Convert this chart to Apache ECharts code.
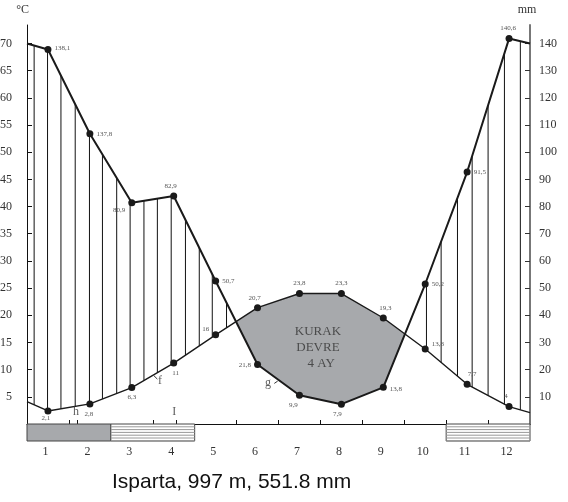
<!DOCTYPE html>
<html>
<head>
<meta charset="utf-8">
<script src="https://cdn.jsdelivr.net/npm/echarts@6/dist/echarts.min.js"></script>
<style>
html, body { margin: 0; padding: 0; background: #fff; }
#chart { width: 568px; height: 502px; }
</style>
</head>
<body>
<div id="chart"></div>
<script>
// months on the x axis
const months = ['1', '2', '3', '4', '5', '6', '7', '8', '9', '10', '11', '12'];

// temperature (°C) as drawn, plus the curve ends at the left/right frame
const tempVals = [2.4, 3.7, 6.7, 11.2, 16.4, 21.4, 24.0, 24.0, 19.5, 13.8, 7.3, 3.2];
const tempEdges = [4.1, 2.1];
const tempLabels = ['2,1', '2,8', '6,3', '11', '16', '20,7', '23,8', '23,3', '19,3', '13,8', '7,7', '4'];

// precipitation (mm) as drawn, plus the curve ends
const precVals = [137.8, 106.8, 81.4, 83.9, 52.6, 21.9, 10.6, 7.3, 13.5, 51.5, 92.7, 141.8];
const precEdges = [140, 140];
const precLabels = ['138,1', '137,8', '80,9', '82,9', '50,7', '21,8', '9,9', '7,9', '13,8', '50,2', '91,5', '140,6'];

const tempTicks = [5, 10, 15, 20, 25, 30, 35, 40, 45, 50, 55, 60, 65, 70];
const precTicks = [10, 20, 30, 40, 50, 60, 70, 80, 90, 100, 110, 120, 130, 140];
const monthTicks = [1, 1.2, 3, 3.55, 5, 6, 7, 8, 9, 10, 11];

// humid period hatch lines (month units along the axis)
const hatchX = [0.17, 0.49, 0.81, 1.15, 1.49, 1.8, 2.14, 2.46, 2.79, 3.11, 3.44, 3.78, 4.11, 4.42, 4.76,
    9.53, 9.88, 10.27, 10.62, 11.0, 11.39, 11.77];

// frost periods (in month units along the axis)
const absFrost = [[0, 2]];
const probFrost = [[2, 4], [10, 12]];

// small letters on the diagram
const notes = [['h', 1.17, 2.2], ['I', 3.51, 2.2], ['f', 3.17, 7.9], ['g', 5.75, 7.5]];
const leaders = [[3.03, 8.87, 3.11, 8.26], [5.9, 7.47, 5.98, 7.89]];
const dryText = [['KURAK\nDEVRE\n  4 AY', 6.94, 14.15]];

// label placement
const tempLabelPos = ['bottom', 'bottom', 'bottom', 'bottom', 'left', 'top', 'top', 'top', 'top', 'right', 'top', 'top'];
const tempLabelOff = [[-2, -3], [-1, 0], [0, 0], [2, 0], [0, -6], [-3, 0], [0, 0], [0, 0], [2, 0], [0, -5], [5, 0], [-3, 0]];
const precLabelPos = ['right', 'right', 'left', 'top', 'right', 'left', 'bottom', 'bottom', 'right', 'right', 'right', 'top'];
const precLabelOff = [[0, -1], [0, 0], [0, 7], [-3, 0], [0, 0], [0, 1], [-6, 0], [-4, 0], [0, 2], [0, 0], [0, 0], [-1, 0]];

const serif = 'Liberation Serif';

const xs = [0].concat(months.map((m, i) => i + 0.5), [12]);
const tempPts = [tempEdges[0]].concat(tempVals, [tempEdges[1]]).map((v, i) => [xs[i], v]);
const precPtsC = [precEdges[0]].concat(precVals, [precEdges[1]]).map((v, i) => [xs[i], v / 2]);

function interp(pts, x) {
    for (let i = 0; i < pts.length - 1; i++) {
        if (x >= pts[i][0] && x <= pts[i + 1][0]) {
            const f = (x - pts[i][0]) / (pts[i + 1][0] - pts[i][0]);
            return pts[i][1] + f * (pts[i + 1][1] - pts[i][1]);
        }
    }
    return pts[pts.length - 1][1];
}

// humid period hatching: from the temperature curve up to the rain curve
const hatch = [];
hatchX.forEach(x => {
    const t = interp(tempPts, x), p = interp(precPtsC, x);
    if (p > t) hatch.push([x, t, p]);
});

// dry period polygon
const dryTop = [], dryBot = [];
for (let i = 0; i < xs.length; i++) {
    const d0 = tempPts[i][1] - precPtsC[i][1];
    if (d0 > 0) { dryTop.push(tempPts[i]); dryBot.push(precPtsC[i]); }
    if (i < xs.length - 1) {
        const d1 = tempPts[i + 1][1] - precPtsC[i + 1][1];
        if ((d0 > 0) !== (d1 > 0)) {
            const f = d0 / (d0 - d1);
            const xc = xs[i] + f * (xs[i + 1] - xs[i]);
            const yc = tempPts[i][1] + f * (tempPts[i + 1][1] - tempPts[i][1]);
            dryTop.push([xc, yc]); dryBot.push([xc, yc]);
        }
    }
}
const dryPoly = dryTop.concat(dryBot.slice().reverse());

function lineData(vals, edges, labels, pos, off) {
    const out = [{ value: [0, edges[0]], symbol: 'none', label: { show: false } }];
    vals.forEach((v, i) => {
        out.push({
            value: [i + 0.5, v],
            label: { show: true, position: pos[i], offset: off[i], formatter: labels[i] }
        });
    });
    out.push({ value: [12, edges[1]], symbol: 'none', label: { show: false } });
    return out;
}

const chart = echarts.init(document.getElementById('chart'));
chart.setOption({
    animation: false,
    title: {
        text: 'Isparta, 997 m, 551.8 mm',
        left: 107,
        top: 467,
        textStyle: { fontFamily: 'Liberation Sans', fontSize: 21, fontWeight: 'normal', color: '#111' }
    },
    grid: { left: 27, right: 38, top: 25, bottom: 78, outerBoundsMode: 'none', containLabel: false },
    xAxis: [
        {
            type: 'value', min: 0, max: 12,
            axisLine: { lineStyle: { color: '#111', width: 1 } },
            axisTick: { inside: true, length: 4, customValues: monthTicks, lineStyle: { color: '#111' } },
            axisLabel: { show: false },
            splitLine: { show: false }
        },
        {
            type: 'category', data: months, position: 'bottom', boundaryGap: true,
            axisLine: { show: false }, axisTick: { show: false },
            axisLabel: { margin: 22, padding: [0, 5, 0, 0], fontFamily: serif, fontSize: 12, color: '#333' }
        }
    ],
    yAxis: [
        {
            type: 'value', min: 0, max: 73.4, position: 'left',
            name: '°C', nameLocation: 'end', nameGap: 9,
            nameTextStyle: { fontFamily: serif, fontSize: 12, color: '#333', align: 'right', padding: [0, -2, 0, 0] },
            axisLine: { show: true, lineStyle: { color: '#111', width: 1 } },
            axisTick: { show: true, inside: true, length: 5, customValues: tempTicks, lineStyle: { color: '#111' } },
            axisLabel: { customValues: tempTicks, margin: 15, fontFamily: serif, fontSize: 12, color: '#333' },
            splitLine: { show: false }
        },
        {
            type: 'value', min: 0, max: 146.8, position: 'right',
            name: 'mm', nameLocation: 'end', nameGap: 9,
            nameTextStyle: { fontFamily: serif, fontSize: 12, color: '#333', padding: [0, 6, 0, 0] },
            axisLine: { show: true, lineStyle: { color: '#777', width: 2 } },
            axisTick: { show: true, inside: true, length: 5, customValues: precTicks, lineStyle: { color: '#333' } },
            axisLabel: { customValues: precTicks, margin: 9, fontFamily: serif, fontSize: 12, color: '#333' },
            splitLine: { show: false }
        }
    ],
    series: [
        {
            type: 'custom', xAxisIndex: 0, yAxisIndex: 0, z: 1,
            data: [[0, 0]],
            renderItem: function (params, api) {
                return {
                    type: 'polygon',
                    shape: { points: dryPoly.map(p => api.coord(p)) },
                    style: { fill: '#a7a9ac', stroke: 'none' }
                };
            }
        },
        {
            type: 'custom', xAxisIndex: 0, yAxisIndex: 0, z: 2,
            data: hatch,
            renderItem: function (params, api) {
                const a = api.coord([api.value(0), api.value(1)]);
                const b = api.coord([api.value(0), api.value(2)]);
                return {
                    type: 'line',
                    shape: { x1: a[0], y1: a[1], x2: b[0], y2: b[1] },
                    style: { stroke: '#111', lineWidth: 1 }
                };
            }
        },
        {
            type: 'custom', xAxisIndex: 0, yAxisIndex: 0, z: 2, clip: false,
            data: absFrost.map(d => d.concat([0])).concat(probFrost.map(d => d.concat([1]))),
            renderItem: function (params, api) {
                const a = api.coord([api.value(0), 0]);
                const b = api.coord([api.value(1), 0]);
                const h = 17;
                const children = [{
                    type: 'rect',
                    shape: { x: a[0], y: a[1], width: b[0] - a[0], height: h },
                    style: { fill: api.value(2) ? '#fff' : '#a7a9ac', stroke: '#444', lineWidth: 1 }
                }];
                if (api.value(2)) {
                    for (let y = a[1] + 2.8; y < a[1] + h; y += 2.8) {
                        children.push({
                            type: 'line',
                            shape: { x1: a[0], y1: y, x2: b[0], y2: y },
                            style: { stroke: '#999', lineWidth: 1 }
                        });
                    }
                }
                return { type: 'group', children: children };
            }
        },
        {
            type: 'custom', xAxisIndex: 0, yAxisIndex: 0, z: 2,
            data: leaders,
            renderItem: function (params, api) {
                const a = api.coord([api.value(0), api.value(1)]);
                const b = api.coord([api.value(2), api.value(3)]);
                return {
                    type: 'line',
                    shape: { x1: a[0], y1: a[1], x2: b[0], y2: b[1] },
                    style: { stroke: '#333', lineWidth: 1 }
                };
            }
        },
        {
            name: 'precipitation', type: 'line', xAxisIndex: 0, yAxisIndex: 1, z: 4,
            data: lineData(precVals, precEdges, precLabels, precLabelPos, precLabelOff),
            symbol: 'circle', symbolSize: 7, showSymbol: true,
            itemStyle: { color: '#1a1a1a' },
            lineStyle: { color: '#1a1a1a', width: 2 },
            label: { fontFamily: serif, fontSize: 7, color: '#555', distance: 3 }
        },
        {
            name: 'temperature', type: 'line', xAxisIndex: 0, yAxisIndex: 0, z: 4,
            data: lineData(tempVals, tempEdges, tempLabels, tempLabelPos, tempLabelOff),
            symbol: 'circle', symbolSize: 7, showSymbol: true,
            itemStyle: { color: '#1a1a1a' },
            lineStyle: { color: '#1a1a1a', width: 1.4 },
            label: { fontFamily: serif, fontSize: 7, color: '#555', distance: 3 }
        },
        {
            type: 'scatter', xAxisIndex: 0, yAxisIndex: 0, z: 5,
            symbolSize: 0,
            data: notes.map(n => ({ name: n[0], value: [n[1], n[2]] })),
            label: { show: true, position: 'inside', formatter: '{b}', fontFamily: serif, fontSize: 12, color: '#333' }
        },
        {
            type: 'scatter', xAxisIndex: 0, yAxisIndex: 0, z: 5,
            symbolSize: 0,
            data: dryText.map(n => ({ name: n[0], value: [n[1], n[2]] })),
            label: { show: true, position: 'inside', formatter: '{b}', fontFamily: serif, fontSize: 13, lineHeight: 16, color: '#333' }
        }
    ]
});
</script>
</body>
</html>
